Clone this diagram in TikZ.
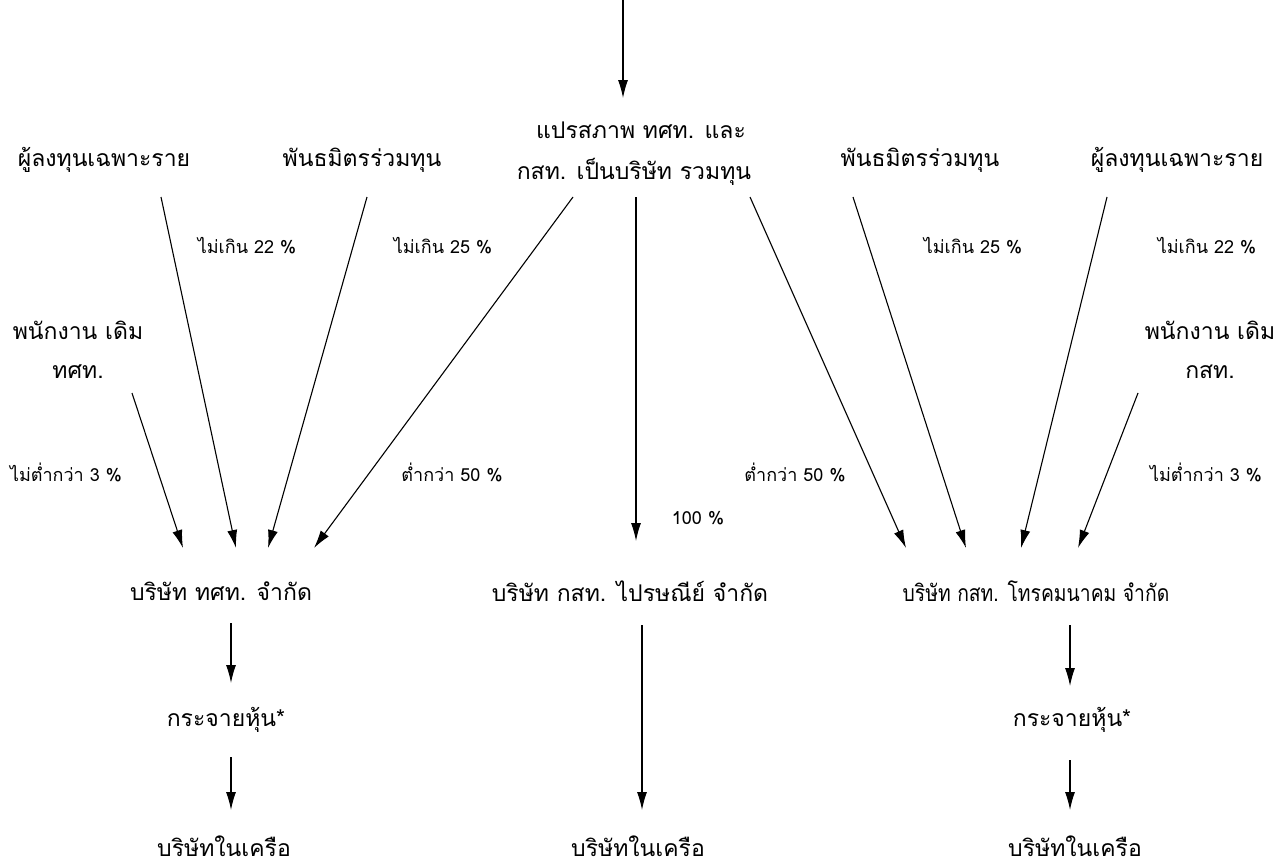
\documentclass[tikz,border=0pt]{standalone}
\usepackage{fontspec}
\newfontfamily\thai[Script=Thai]{Loma}
\usetikzlibrary{arrows.meta}
\tikzset{
  big/.style={font=\thai\fontsize{23}{27}\selectfont, inner sep=1pt, align=center},
  lbl/.style={font=\thai\fontsize{18}{21}\selectfont, inner sep=1pt},
  arr/.style={-{Latex[length=18pt,width=10pt]}, line width=1.1pt}
}
\begin{document}
\begin{tikzpicture}[x=1pt,y=-1pt]
\useasboundingbox (0,0) rectangle (1281,867);
% top
\node[big] (conv1) at (641,130) {แปรสภาพ ทศท. และ};
\node[big] (conv2) at (634,172) {กสท. เป็นบริษัท รวมทุน};
\coordinate (topin) at (623,0);
\coordinate (topend) at (623,98);
\draw[arr] (topin) -- (topend);
% sources
\node[big] (invL) at (104,160) {ผู้ลงทุนเฉพาะราย};
\node[big] (parL) at (362,160) {พันธมิตรร่วมทุน};
\node[big] (parR) at (920,160) {พันธมิตรร่วมทุน};
\node[big] (invR) at (1177,160) {ผู้ลงทุนเฉพาะราย};
\node[big] (empL1) at (78,330) {พนักงาน เดิม};
\node[big] (empL2) at (78,372) {ทศท.};
\node[big] (empR1) at (1210,330) {พนักงาน เดิม};
\node[big] (empR2) at (1210,372) {กสท.};
% labels
\node[lbl] (l22L) at (247,246) {ไม่เกิน 22 \%};
\node[lbl] (l25L) at (443,246) {ไม่เกิน 25 \%};
\node[lbl] (l25R) at (973,246) {ไม่เกิน 25 \%};
\node[lbl] (l22R) at (1207,246) {ไม่เกิน 22 \%};
\node[lbl] (l3L) at (66,472) {ไม่ต่ำกว่า 3 \%};
\node[lbl] (l50L) at (452,472) {ต่ำกว่า 50 \%};
\node[lbl] (l50R) at (795,472) {ต่ำกว่า 50 \%};
\node[lbl] (l3R) at (1206,472) {ไม่ต่ำกว่า 3 \%};
\node[lbl] (l100) at (698,518) {100 \%};
% companies
\node[big] (cL) at (221,591) {บริษัท ทศท. จำกัด};
\node[big] (cC) at (630,591) {บริษัท กสท. ไปรษณีย์ จำกัด};
\node[big] (cR) at (1036,591) {\scalebox{0.84}[1]{บริษัท กสท. โทรคมนาคม จำกัด}};
\node[big] (dL) at (226,720) {กระจายหุ้น*};
\node[big] (dR) at (1072,720) {กระจายหุ้น*};
\node[big] (sL) at (224,846) {บริษัทในเครือ};
\node[big] (sC) at (638,846) {บริษัทในเครือ};
\node[big] (sR) at (1075,846) {บริษัทในเครือ};
% arrow endpoints
\coordinate (a1s) at (161,197); \coordinate (a1e) at (236,548);
\coordinate (a2s) at (367,197); \coordinate (a2e) at (268,548);
\coordinate (a3s) at (573,197); \coordinate (a3e) at (314,548);
\coordinate (a4s) at (132,393); \coordinate (a4e) at (183,548);
\coordinate (c0s) at (636,197); \coordinate (c0e) at (636,541);
\coordinate (b1s) at (750,197); \coordinate (b1e) at (906,548);
\coordinate (b2s) at (853,197); \coordinate (b2e) at (966,548);
\coordinate (b3s) at (1107,197); \coordinate (b3e) at (1021,548);
\coordinate (b4s) at (1138,393); \coordinate (b4e) at (1078,548);
\draw[arr] (a1s) -- (a1e);
\draw[arr] (a2s) -- (a2e);
\draw[arr] (a3s) -- (a3e);
\draw[arr] (a4s) -- (a4e);
\draw[arr] (c0s) -- (c0e);
\draw[arr] (b1s) -- (b1e);
\draw[arr] (b2s) -- (b2e);
\draw[arr] (b3s) -- (b3e);
\draw[arr] (b4s) -- (b4e);
% lower arrows
\coordinate (dL1s) at (231,623); \coordinate (dL1e) at (231,683);
\coordinate (dL2s) at (231,757); \coordinate (dL2e) at (231,810);
\coordinate (dC1s) at (642,625); \coordinate (dC1e) at (642,810);
\coordinate (dR1s) at (1070,625); \coordinate (dR1e) at (1070,686);
\coordinate (dR2s) at (1070,760); \coordinate (dR2e) at (1070,810);
\draw[arr] (dL1s) -- (dL1e);
\draw[arr] (dL2s) -- (dL2e);
\draw[arr] (dC1s) -- (dC1e);
\draw[arr] (dR1s) -- (dR1e);
\draw[arr] (dR2s) -- (dR2e);
\end{tikzpicture}
\end{document}
